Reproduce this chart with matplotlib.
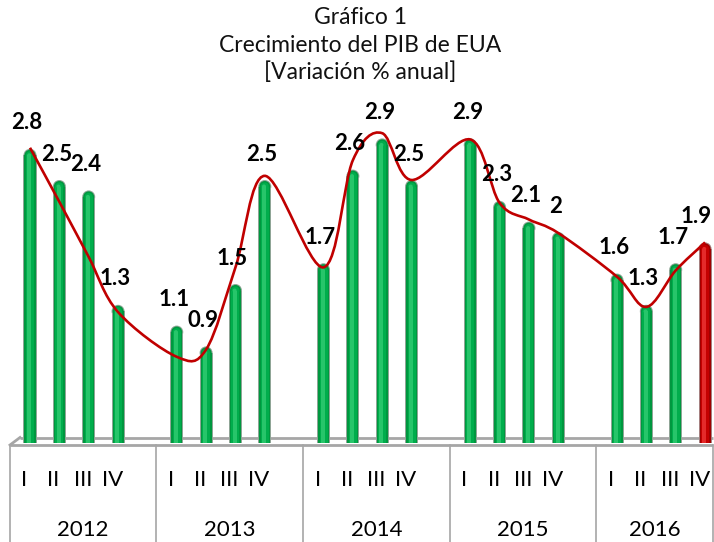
import matplotlib.pyplot as plt
import numpy as np
from matplotlib.patches import Ellipse, PathPatch
from matplotlib.path import Path

# datos
anios = ['2012', '2013', '2014', '2015', '2016']
trimestres = ['I', 'II', 'III', 'IV']
pib = [2.8, 2.5, 2.4, 1.3,
       1.1, 0.9, 1.5, 2.5,
       1.7, 2.6, 2.9, 2.5,
       2.9, 2.3, 2.1, 2.0,
       1.6, 1.3, 1.7, 1.9]
# linea suavizada
linea = [2.81, 2.29, 1.76, 1.23,
         0.80, 0.87, 1.66, 2.54,
         1.66, 2.69, 2.95, 2.50,
         2.89, 2.28, 2.12, 1.99,
         1.57, 1.28, 1.63, 1.90]

# escala: pixeles por unidad
SX = 29.35   # px por posicion
SY = 104.0   # px por punto porcentual
X0, Y0 = 30, 440

pos = [g * 5 + q for g in range(len(anios)) for q in range(len(trimestres))]

fig = plt.figure(figsize=(7.14, 5.42), dpi=100)
ax = fig.add_axes([0, 0, 1, 1])
ax.set_xlim(-X0 / SX, (714 - X0) / SX)
ax.set_ylim(-(542 - Y0) / SY, Y0 / SY)
ax.axis('off')
plt.rcParams['font.family'] = ['Lato', 'DejaVu Sans']


def px(x, y):
    return (x - X0) / SX, (Y0 - y) / SY


# piso 3D
gris = '#a6a6a6'
a, b = px(20, 437.5)
c, d = px(713, 437.5)
ax.plot([a, c], [b, d], color=gris, lw=2, zorder=1, solid_capstyle='butt')
a, b = px(10, 445)
c, d = px(713, 445)
ax.plot([a, c], [b, d], color=gris, lw=2, zorder=1, solid_capstyle='butt')
a, b = px(10, 445)
c, d = px(20, 437.5)
ax.plot([a, c], [b, d], color=gris, lw=2, zorder=1)

# separadores de anios
sep_px = [10, 156, 303, 450, 596, 713]
for s in sep_px:
    a, b = px(s, 445)
    c, d = px(s, 542)
    ax.plot([a, a], [b, d], color=gris, lw=1.2, zorder=1)

# barras cilindricas
capas_verde = [(13, '#8fa596'), (11, '#00973f'), (8, '#00ad4c'), (4, '#27c56a')]
capas_rojo = [(13, '#a58080'), (11, '#a00000'), (8, '#c40000'), (4, '#e42a2a')]
base = -3 / SY
for i, (p, v) in enumerate(zip(pos, pib)):
    capas = capas_rojo if i == len(pib) - 1 else capas_verde
    for k, (w, col) in enumerate(capas):
        dx = -0.8 / SX if k == 3 else 0
        wd = w / SX
        hd = w / SY
        yc = v - (capas[0][0] / 2) / SY
        ax.bar(p + dx, yc - base, bottom=base, width=wd, color=col,
               linewidth=0, zorder=2 + k * 0.1)
        ax.add_patch(Ellipse((p + dx, yc), wd, hd, color=col, lw=0,
                             zorder=2 + k * 0.1))

# linea roja suavizada (Bezier tipo Catmull-Rom)
P = np.column_stack([pos, linea]).astype(float)
n = len(P)
T = np.zeros_like(P)
T[1:-1] = (P[2:] - P[:-2]) / 2
T[0] = P[1] - P[0]
T[-1] = P[-1] - P[-2]
verts = [tuple(P[0])]
codes = [Path.MOVETO]
for i in range(n - 1):
    verts += [tuple(P[i] + T[i] / 3), tuple(P[i + 1] - T[i + 1] / 3), tuple(P[i + 1])]
    codes += [Path.CURVE4] * 3
ax.add_patch(PathPatch(Path(verts, codes), facecolor='none', edgecolor='#c00000',
                       lw=1.9, zorder=5))

# etiquetas de valores
for i, (p, v) in enumerate(zip(pos, pib)):
    dx = -9 if i == len(pib) - 1 else -3
    ax.annotate('{:g}'.format(v), (p, v), xytext=(dx, 26), textcoords='offset pixels',
                ha='center', va='center', fontsize=16, fontweight='bold',
                color='black', zorder=6)

# etiquetas del eje
for i, p in enumerate(pos):
    ax.text(p - 0.2, px(0, 480)[1], trimestres[i % 4], ha='center', va='center',
            fontsize=16, color='black')
for g, anio in enumerate(anios):
    cx = (sep_px[g] + sep_px[g + 1]) / 2
    x, y = px(cx, 530)
    ax.text(x, y, anio, ha='center', va='center', fontsize=16, color='black')

# titulo
for txt, yy in [('Gráfico 1', 18), ('Crecimiento del PIB de EUA', 45),
                ('[Variación % anual]', 72)]:
    fig.text(0.505, 1 - yy / 542, txt, ha='center', va='center', fontsize=16.5,
             color='#111111')

fig.savefig('out.png', dpi=100)
